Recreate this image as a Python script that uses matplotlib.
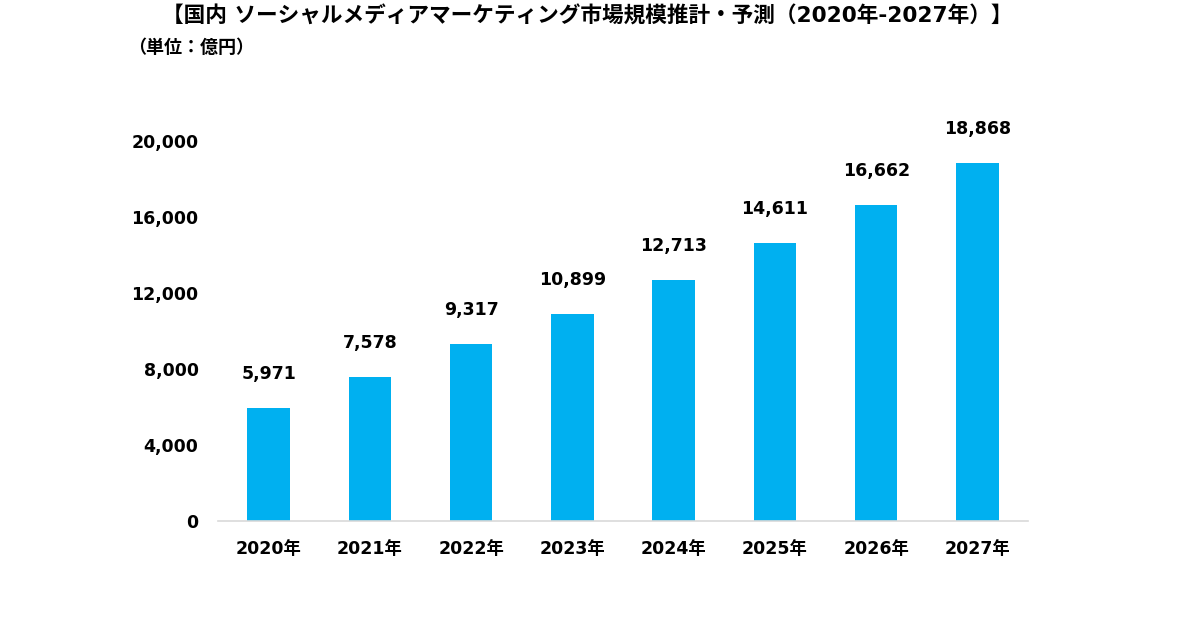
import matplotlib
matplotlib.use('Agg')
import matplotlib.pyplot as plt

plt.rcParams['font.family'] = ['DejaVu Sans', 'Noto Sans CJK JP']
plt.rcParams['font.weight'] = 'bold'

years = ['2020年', '2021年', '2022年', '2023年', '2024年', '2025年', '2026年', '2027年']
values = [5971, 7578, 9317, 10899, 12713, 14611, 16662, 18868]
yticks = [0, 4000, 8000, 12000, 16000, 20000]

fig = plt.figure(figsize=(12, 6.3), dpi=100)
ax = fig.add_axes([0.1817, 0.173, 0.675, 0.603])

x = range(len(years))
ax.bar(x, values, width=0.42, color='#00B0F0', zorder=2)
for i, v in zip(x, values):
    ax.annotate(f'{v:,}', (i, v), xytext=(0, 18), textcoords='offset points',
                ha='center', va='bottom', fontsize=12.5, fontweight='bold',
                annotation_clip=False)

ax.set_xlim(-0.5, len(years) - 0.5)
ax.set_ylim(0, 20000)
ax.set_yticks(yticks)
ax.set_yticklabels([f'{t:,}' for t in yticks], fontsize=12.5, fontweight='bold')
ax.set_xticks(list(x))
ax.set_xticklabels(years, fontsize=12.5, fontweight='bold')
ax.tick_params(axis='both', length=0)
ax.tick_params(axis='y', pad=14)
ax.tick_params(axis='x', pad=14)

for s in ['top', 'right', 'left']:
    ax.spines[s].set_visible(False)
ax.spines['bottom'].set_color('#D9D9D9')
ax.spines['bottom'].set_linewidth(1.2)

fig.text(0.489, 0.975, '【国内 ソーシャルメディアマーケティング市場規模推計・予測（2020年-2027年）】',
         ha='center', va='center', fontsize=15.6, fontweight='bold')
fig.text(0.107, 0.924, '（単位：億円）', ha='left', va='center', fontsize=13, fontweight='bold')

fig.savefig('out.png', dpi=100)
